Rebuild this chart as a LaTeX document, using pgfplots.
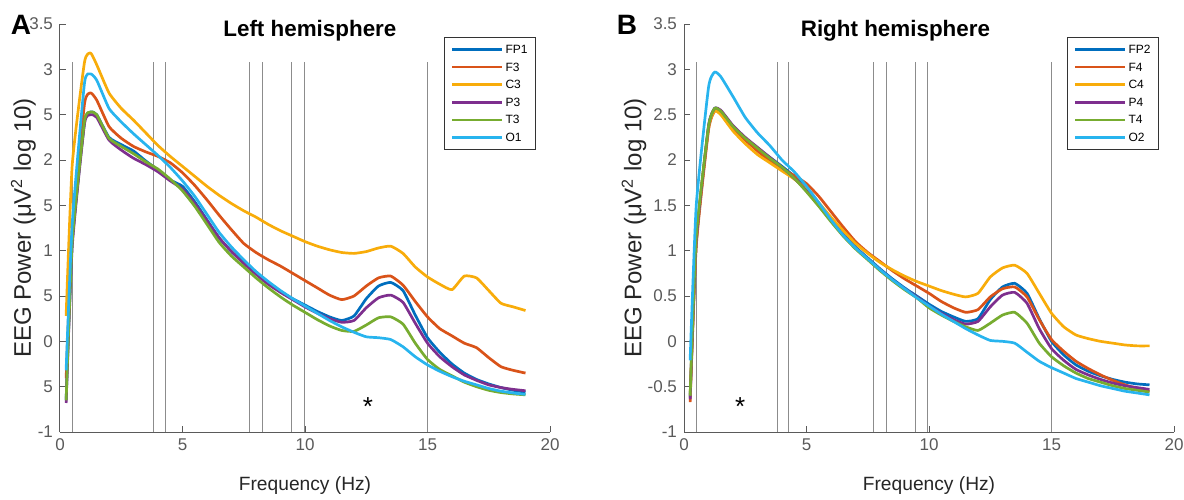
\documentclass[border=0pt]{standalone}
\usepackage{pgfplots}
\pgfplotsset{compat=1.18}
\usepackage{pgfplotstable}
\usepackage{fontspec}
\setmainfont{Liberation Sans}

\definecolor{cFP}{RGB}{0,110,190}
\definecolor{cF}{RGB}{217,83,25}
\definecolor{cC}{RGB}{248,172,10}
\definecolor{cP}{RGB}{126,47,142}
\definecolor{cT}{RGB}{119,172,48}
\definecolor{cO}{RGB}{40,180,238}
\definecolor{axgray}{RGB}{90,90,90}

% left hemisphere: x FP1 F3 C3 P3 T3 O1
\pgfplotstableread{
x     FP    F     C     P     T     O
0.25 -0.65 -0.41  0.28 -0.68 -0.65 -0.32
0.5   1.10  1.20  1.95  1.05  1.10  1.30
1.0   2.42  2.62  3.08  2.40  2.43  2.85
1.25  2.53  2.74  3.18  2.50  2.53  2.95
1.5   2.50  2.66  3.05  2.47  2.50  2.88
2     2.25  2.37  2.74  2.22  2.24  2.57
2.5   2.17  2.24  2.57  2.11  2.15  2.42
3     2.10  2.15  2.44  2.02  2.07  2.29
3.5   1.99  2.09  2.30  1.95  1.98  2.17
4     1.89  2.04  2.16  1.87  1.90  2.05
4.5   1.78  1.97  2.04  1.77  1.79  1.92
5     1.71  1.86  1.93  1.68  1.66  1.77
5.5   1.54  1.72  1.82  1.52  1.49  1.60
6     1.34  1.56  1.71  1.33  1.29  1.40
6.5   1.14  1.39  1.61  1.14  1.09  1.20
7     0.99  1.23  1.52  0.99  0.94  1.04
7.5   0.87  1.08  1.44  0.86  0.82  0.90
8     0.75  0.98  1.37  0.74  0.70  0.77
8.5   0.64  0.90  1.29  0.63  0.59  0.66
9     0.55  0.83  1.22  0.54  0.49  0.56
9.5   0.47  0.75  1.16  0.46  0.40  0.47
10    0.40  0.67  1.10  0.38  0.32  0.39
10.5  0.33  0.59  1.05  0.31  0.24  0.31
11    0.27  0.51  1.01  0.25  0.17  0.23
11.5  0.23  0.46  0.98  0.21  0.12  0.16
12    0.28  0.50  0.97  0.23  0.11  0.10
12.5  0.47  0.61  0.99  0.37  0.18  0.05
13    0.61  0.70  1.03  0.48  0.26  0.04
13.5  0.65  0.72  1.05  0.51  0.27  0.02
14    0.56  0.62  0.97  0.43  0.19 -0.06
14.5  0.29  0.44  0.82  0.20 -0.02 -0.17
15    0.04  0.27  0.71 -0.02 -0.20 -0.26
15.5 -0.12  0.14  0.63 -0.17 -0.31 -0.33
16   -0.25  0.06  0.57 -0.28 -0.38 -0.39
16.5 -0.35 -0.02  0.72 -0.37 -0.45 -0.44
17   -0.42 -0.07  0.70 -0.43 -0.50 -0.48
17.5 -0.47 -0.18  0.56 -0.48 -0.54 -0.52
18   -0.51 -0.28  0.42 -0.51 -0.565 -0.55
18.5 -0.54 -0.32  0.38 -0.53 -0.58 -0.57
19   -0.56 -0.35  0.34 -0.545 -0.59 -0.585
}\lefthemi

% right hemisphere: x FP2 F4 C4 P4 T4 O2
\pgfplotstableread{
x     FP    F     C     P     T     O
0.25 -0.62 -0.67 -0.60 -0.64 -0.60 -0.21
0.5   1.10  1.05  1.10  1.10  1.15  1.50
1.0   2.37  2.33  2.35  2.37  2.37  2.80
1.25  2.57  2.54  2.54  2.57  2.57  2.97
1.5   2.54  2.52  2.50  2.55  2.54  2.92
2     2.37  2.35  2.32  2.38  2.37  2.70
2.5   2.24  2.22  2.18  2.25  2.24  2.47
3     2.13  2.10  2.06  2.14  2.13  2.30
3.5   2.03  1.99  1.97  2.03  2.02  2.16
4     1.93  1.90  1.88  1.92  1.92  2.00
4.5   1.82  1.83  1.79  1.80  1.80  1.87
5     1.68  1.74  1.68  1.66  1.65  1.71
5.5   1.51  1.60  1.53  1.50  1.49  1.53
6     1.34  1.43  1.37  1.33  1.32  1.34
6.5   1.18  1.26  1.22  1.17  1.16  1.17
7     1.04  1.10  1.08  1.03  1.02  1.03
7.5   0.92  0.98  0.97  0.91  0.90  0.91
8     0.80  0.88  0.87  0.79  0.78  0.79
8.5   0.69  0.78  0.79  0.68  0.67  0.68
9     0.59  0.69  0.72  0.58  0.57  0.58
9.5   0.50  0.61  0.66  0.49  0.48  0.48
10    0.41  0.53  0.61  0.39  0.37  0.39
10.5  0.33  0.44  0.56  0.31  0.29  0.30
11    0.27  0.37  0.52  0.24  0.22  0.22
11.5  0.22  0.32  0.49  0.19  0.16  0.14
12    0.25  0.35  0.53  0.22  0.12  0.07
12.5  0.46  0.49  0.71  0.38  0.20  0.01
13    0.60  0.58  0.81  0.51  0.29  0.00
13.5  0.64  0.60  0.84  0.54  0.32 -0.02
14    0.53  0.49  0.75  0.42  0.20 -0.12
14.5  0.25  0.24  0.53  0.14 -0.02 -0.22
15    0.00  0.02  0.31 -0.08 -0.17 -0.29
15.5 -0.15 -0.11  0.16 -0.21 -0.27 -0.35
16   -0.26 -0.22  0.07 -0.31 -0.35 -0.41
16.5 -0.33 -0.30  0.03 -0.37 -0.41 -0.45
17   -0.38 -0.37  0.00 -0.42 -0.45 -0.49
17.5 -0.42 -0.43 -0.02 -0.46 -0.49 -0.52
18   -0.45 -0.48 -0.04 -0.49 -0.52 -0.55
18.5 -0.47 -0.52 -0.05 -0.51 -0.54 -0.57
19   -0.48 -0.55 -0.05 -0.53 -0.56 -0.59
}\righthemi

\pgfplotsset{
  eeg/.style={
    x=12.25pt, y=45.33pt,
    xmin=0, xmax=20, ymin=-1, ymax=3.5,
    axis x line*=bottom, axis y line*=left,
    axis line style={axgray, line width=0.5pt, -},
    tick align=inside, major tick length=3pt,
    tick style={axgray, line width=0.5pt},
    xtick={0,5,10,15,20}, xticklabels={0,5,10,15,20},
    ytick={-1,-0.5,0,0.5,1,1.5,2,2.5,3,3.5},
    tick label style={font=\fontsize{8.5}{10}\selectfont, text=axgray},
    xlabel={Frequency (Hz)},
    ylabel={EEG Power (μV\textsuperscript{2} log 10)},
    xlabel style={font=\fontsize{9.6}{11}\selectfont, text=black!85,
      at={(axis description cs:0.5,-0.13)}, anchor=center},
    ylabel style={font=\fontsize{12}{14}\selectfont, text=black!85},
    clip=false,
    every axis plot/.append style={line width=1.35pt, line join=round, smooth, tension=0.3},
    vline/.style={black!45, line width=0.6pt, forget plot, sharp plot},
    legend cell align=left,
    legend image code/.code={\draw[##1, sharp plot] (0pt,0pt) -- (25pt,0pt);},
    legend style={font=\fontsize{6}{7}\selectfont, draw=black!80, line width=0.5pt,
      anchor=north east, row sep=0.8pt,
      nodes={inner sep=1pt, text height=5pt, text depth=1pt}},
  }
}

\begin{document}
\begin{tikzpicture}
\useasboundingbox (-30pt,-33.5pt) rectangle (562pt,216pt);

\begin{axis}[eeg, at={(0,0)}, anchor=south west,
  yticklabels={-1,5,0,5,1,5,2,5,3,3.5},
  ylabel style={at={(axis description cs:-0.0745,0.5)}, anchor=center},
  legend style={at={(axis cs:19.43,3.357)}}]
\addplot[vline] coordinates {(0.5,-1) (0.5,3.08)};
\addplot[vline] coordinates {(3.8,-1) (3.8,3.08)};
\addplot[vline] coordinates {(4.3,-1) (4.3,3.08)};
\addplot[vline] coordinates {(7.75,-1) (7.75,3.08)};
\addplot[vline] coordinates {(8.25,-1) (8.25,3.08)};
\addplot[vline] coordinates {(9.45,-1) (9.45,3.08)};
\addplot[vline] coordinates {(9.97,-1) (9.97,3.08)};
\addplot[vline] coordinates {(15,-1) (15,3.08)};
\addplot[cFP] table[x=x, y=FP] {\lefthemi};
\addplot[cF]  table[x=x, y=F]  {\lefthemi};
\addplot[cC]  table[x=x, y=C]  {\lefthemi};
\addplot[cP]  table[x=x, y=P]  {\lefthemi};
\addplot[cT]  table[x=x, y=T]  {\lefthemi};
\addplot[cO]  table[x=x, y=O]  {\lefthemi};
\legend{FP1,F3,C3,P3,T3,O1}
\node[font=\bfseries\fontsize{11.2}{13}\selectfont] at (axis cs:10.2,3.43) {Left hemisphere};
\node[font=\bfseries\fontsize{14}{16}\selectfont] at (axis cs:-1.59,3.49) {A};
\node[font=\fontsize{13}{15}\selectfont, yshift=-2.5pt] at (axis cs:12.57,-0.66) {*};
\end{axis}

\begin{axis}[eeg, at={(312pt,0)}, anchor=south west,
  yticklabels={-1,-0.5,0,0.5,1,1.5,2,2.5,3,3.5},
  ylabel style={at={(axis description cs:-0.102,0.5)}, anchor=center},
  legend style={at={(axis cs:19.39,3.357)}}]
\addplot[vline] coordinates {(0.5,-1) (0.5,3.08)};
\addplot[vline] coordinates {(3.8,-1) (3.8,3.08)};
\addplot[vline] coordinates {(4.25,-1) (4.25,3.08)};
\addplot[vline] coordinates {(7.75,-1) (7.75,3.08)};
\addplot[vline] coordinates {(8.25,-1) (8.25,3.08)};
\addplot[vline] coordinates {(9.45,-1) (9.45,3.08)};
\addplot[vline] coordinates {(9.95,-1) (9.95,3.08)};
\addplot[vline] coordinates {(15,-1) (15,3.08)};
\addplot[cFP] table[x=x, y=FP] {\righthemi};
\addplot[cF]  table[x=x, y=F]  {\righthemi};
\addplot[cC]  table[x=x, y=C]  {\righthemi};
\addplot[cP]  table[x=x, y=P]  {\righthemi};
\addplot[cT]  table[x=x, y=T]  {\righthemi};
\addplot[cO]  table[x=x, y=O]  {\righthemi};
\legend{FP2,F4,C4,P4,T4,O2}
\node[font=\bfseries\fontsize{11.2}{13}\selectfont] at (axis cs:8.63,3.43) {Right hemisphere};
\node[font=\bfseries\fontsize{14}{16}\selectfont] at (axis cs:-2.33,3.49) {B};
\node[font=\fontsize{13}{15}\selectfont, yshift=-2.5pt] at (axis cs:2.29,-0.66) {*};
\end{axis}
\end{tikzpicture}
\end{document}
